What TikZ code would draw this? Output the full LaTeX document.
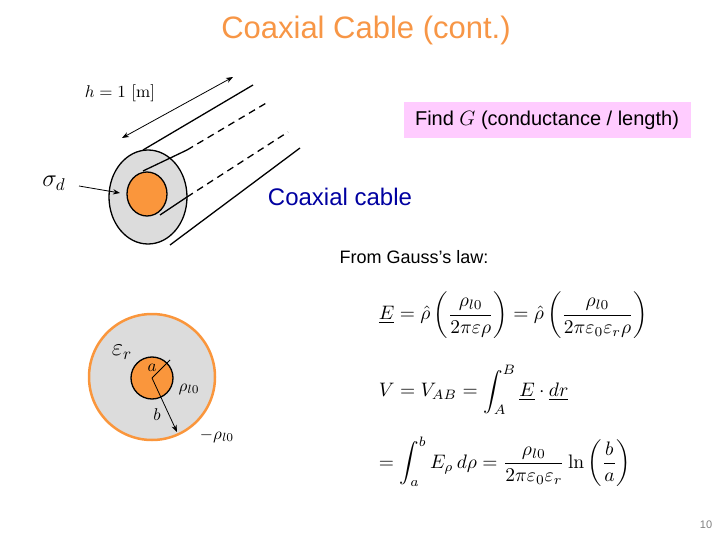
\documentclass[tikz,border=0pt]{standalone}
\usepackage{amsmath}
\usepackage{fontspec}
\setsansfont{Liberation Sans}
\usetikzlibrary{arrows.meta}
\definecolor{ttl}{RGB}{247,150,70}
\definecolor{org}{RGB}{250,150,60}
\definecolor{gr}{RGB}{220,220,220}
\definecolor{pink}{RGB}{255,204,255}
\definecolor{blu}{RGB}{0,0,160}
\begin{document}
\begin{tikzpicture}[x=1pt,y=-1pt,
  ln/.style={line width=1.3pt},
  arr/.style={-{Stealth[length=7pt]},line width=0.8pt},
  mth/.style={scale=1.7},
  eqn/.style={scale=1.95,anchor=west},
  txt/.style={font=\sffamily,inner sep=0}]
\useasboundingbox (0,0) rectangle (720,540);
\node[txt,text=ttl,font=\sffamily\fontsize{31}{36}\selectfont] (title) at (366,30) {Coaxial Cable (cont.)};
% cable
\draw[ln] (143,150) -- (253,85);
\draw[ln] (170,245) -- (300,148);
\draw[ln,fill=gr] (148,197) ellipse [x radius=39,y radius=47];
\draw[ln] (143,171) -- (187,150);
\draw[ln] (160,215) -- (187,197);
\draw[ln,dash pattern=on 7pt off 5pt] (187,150) -- (268,102);
\draw[ln,dash pattern=on 7pt off 5pt] (187,197) -- (288,132);
\draw[ln,fill=org] (147,194) ellipse [x radius=20,y radius=22];
\coordinate (h1) at (122,138); \coordinate (h2) at (233,77);
\draw[{Stealth[length=7pt]}-{Stealth[length=7pt]},line width=0.8pt] (h1) -- (h2);
\node[mth] (hl) at (120,93) {$h=1\ [\mathrm{m}]$};
\node[mth] (sd) at (54,183) {\Large$\sigma_d$};
\coordinate (sdt) at (120,193);
\draw[arr] (79,186) -- (sdt);
\node[txt,text=blu,font=\sffamily\fontsize{24}{28}\selectfont] (cc) at (340,197) {Coaxial cable};
\node[txt,fill=pink,minimum width=287,minimum height=36,font=\sffamily\fontsize{20}{24}\selectfont] (fg) at (547,120) {Find $G$ (conductance / length)};
\node[txt,font=\sffamily\fontsize{18}{21}\selectfont] (gl) at (414,257) {From Gauss’s law:};
% cross-section
\draw[line width=2.5pt,draw=org,fill=gr] (152,377) circle (63);
\draw[line width=1.3pt,fill=org] (152,378) circle (21);
\coordinate (c0) at (152,378); \coordinate (ca) at (170,360); \coordinate (cb) at (177,432);
\draw[line width=1pt] (c0) -- (ca);
\draw[arr] (c0) -- (cb);
\node[mth] at (122,352) {\Large$\varepsilon_r$};
\node[mth] at (152,368) {$a$};
\node[mth] at (157,415) {$b$};
\node[mth] at (189,389) {$\rho_{l0}$};
\node[mth] at (217,436) {$-\rho_{l0}$};
% equations
\node[eqn] (e1) at (372,315) {$\underline{E}=\hat{\rho}\left(\dfrac{\rho_{l0}}{2\pi\varepsilon\rho}\right)=\hat{\rho}\left(\dfrac{\rho_{l0}}{2\pi\varepsilon_0\varepsilon_r\rho}\right)$};
\node[eqn] (e2) at (372,390) {$V=V_{AB}=\displaystyle\int_A^B\underline{E}\cdot\underline{dr}$};
\node[eqn] (e3) at (372,462) {$=\displaystyle\int_a^b E_\rho\,d\rho=\frac{\rho_{l0}}{2\pi\varepsilon_0\varepsilon_r}\ln\left(\frac{b}{a}\right)$};
\node[txt,text=gray,font=\sffamily\fontsize{11}{12}\selectfont] (pn) at (706,525) {10};
\end{tikzpicture}
\end{document}
